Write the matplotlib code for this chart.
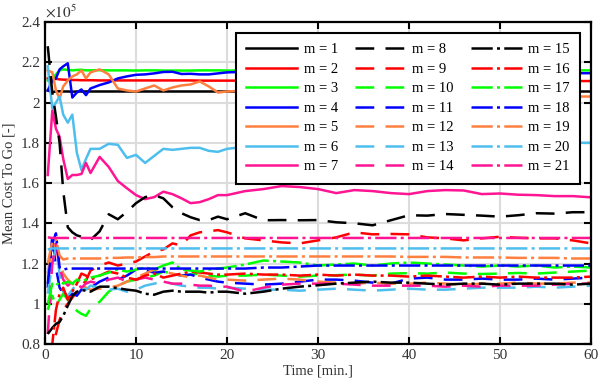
import matplotlib
matplotlib.use("Agg")
import matplotlib.pyplot as plt
from matplotlib.ticker import FuncFormatter

# Mean cost to go for m = 1..21, values in units of 1e5
T = [0.3, 0.8, 1.2, 1.6, 2.0, 2.5, 3.0, 3.5, 4, 4.5,
     5, 6, 7, 8, 9, 10, 11, 12, 13, 14, 15, 16, 17, 18, 19, 20,
     22, 24, 26, 28, 30, 32, 34, 36, 38, 40, 42, 44, 46, 48, 50, 52, 54, 56, 58, 60]

m1 = [2.060, 2.052, 2.055, 2.056, 2.055, 2.055, 2.054, 2.055, 2.055, 2.055,
      2.055, 2.055, 2.055, 2.055, 2.055, 2.055, 2.055, 2.055, 2.055, 2.055,
      2.055, 2.055, 2.055, 2.055, 2.055, 2.055, 2.055, 2.055, 2.055, 2.055,
      2.055, 2.055, 2.055, 2.055, 2.055, 2.055, 2.055, 2.055, 2.055, 2.055,
      2.055, 2.055, 2.055, 2.055, 2.055, 2.055]
m2 = [2.120, 2.122, 2.118, 2.115, 2.114, 2.113, 2.112, 2.112, 2.111, 2.111,
      2.111, 2.110, 2.110, 2.110, 2.110, 2.110, 2.110, 2.110, 2.110, 2.110,
      2.110, 2.110, 2.109, 2.109, 2.109, 2.109, 2.109, 2.109, 2.109, 2.108,
      2.108, 2.108, 2.108, 2.108, 2.108, 2.108, 2.108, 2.108, 2.108, 2.107,
      2.107, 2.107, 2.107, 2.107, 2.107, 2.107]
m3 = [2.110, 2.120, 2.140, 2.160, 2.165, 2.162, 2.160, 2.162, 2.163, 2.160,
      2.160, 2.161, 2.160, 2.160, 2.160, 2.159, 2.160, 2.160, 2.159, 2.159,
      2.159, 2.159, 2.160, 2.160, 2.160, 2.159, 2.160, 2.160, 2.160, 2.160,
      2.160, 2.160, 2.160, 2.160, 2.160, 2.160, 2.160, 2.160, 2.160, 2.160,
      2.160, 2.160, 2.160, 2.160, 2.160, 2.160]
m4 = [2.060, 2.110, 2.120, 2.165, 2.180, 2.195, 2.025, 2.050, 2.065, 2.037,
      2.070, 2.087, 2.100, 2.120, 2.130, 2.138, 2.140, 2.145, 2.152, 2.153,
      2.142, 2.143, 2.140, 2.140, 2.145, 2.150, 2.153, 2.150, 2.148, 2.150,
      2.150, 2.148, 2.150, 2.150, 2.148, 2.147, 2.148, 2.148, 2.147, 2.147,
      2.147, 2.146, 2.146, 2.146, 2.146, 2.146]
m5 = [2.160, 2.150, 2.060, 2.020, 2.080, 2.110, 2.130, 2.140, 2.160, 2.120,
      2.150, 2.165, 2.140, 2.070, 2.060, 2.055, 2.070, 2.085, 2.060, 2.075,
      2.085, 2.090, 2.105, 2.080, 2.050, 2.055, 2.060, 2.060, 2.070, 2.080,
      2.070, 2.060, 2.055, 2.050, 2.050, 2.045, 2.045, 2.040, 2.040, 2.040,
      2.035, 2.035, 2.035, 2.030, 2.030, 2.030]
m6 = [2.180, 1.970, 2.000, 2.030, 1.940, 1.900, 1.940, 1.750, 1.665, 1.720,
      1.770, 1.770, 1.795, 1.790, 1.725, 1.740, 1.700, 1.735, 1.770, 1.765,
      1.770, 1.775, 1.775, 1.760, 1.755, 1.770, 1.780, 1.785, 1.785, 1.790,
      1.790, 1.790, 1.795, 1.795, 1.795, 1.800, 1.800, 1.800, 1.800, 1.800,
      1.800, 1.800, 1.800, 1.800, 1.800, 1.800]
m7 = [1.640, 1.960, 1.870, 1.830, 1.720, 1.620, 1.640, 1.640, 1.645, 1.700,
      1.650, 1.730, 1.680, 1.610, 1.574, 1.540, 1.520, 1.530, 1.557, 1.545,
      1.524, 1.500, 1.505, 1.520, 1.540, 1.540, 1.560, 1.570, 1.585, 1.580,
      1.570, 1.550, 1.565, 1.560, 1.550, 1.545, 1.560, 1.565, 1.563, 1.545,
      1.548, 1.542, 1.540, 1.535, 1.535, 1.529]
m8 = [2.280, 2.050, 1.930, 1.800, 1.560, 1.380, 1.355, 1.340, 1.333, 1.320,
      1.317, 1.360, 1.445, 1.420, 1.457, 1.500, 1.530, 1.540, 1.524, 1.480,
      1.450, 1.430, 1.416, 1.416, 1.433, 1.420, 1.450, 1.415, 1.416, 1.415,
      1.416, 1.405, 1.400, 1.390, 1.415, 1.440, 1.438, 1.446, 1.442, 1.438,
      1.433, 1.440, 1.450, 1.448, 1.455, 1.455]
m9 = [0.700, 0.780, 0.850, 0.920, 0.970, 1.000, 1.030, 1.060, 1.090, 1.115,
      1.165, 1.190, 1.205, 1.190, 1.200, 1.210, 1.235, 1.260, 1.270, 1.300,
      1.290, 1.340, 1.355, 1.360, 1.366, 1.355, 1.325, 1.315, 1.305, 1.300,
      1.315, 1.330, 1.355, 1.345, 1.347, 1.345, 1.330, 1.325, 1.315, 1.325,
      1.333, 1.328, 1.325, 1.325, 1.315, 1.300]
m10 = [0.970, 1.040, 0.990, 1.020, 1.050, 1.020, 0.990, 0.965, 0.950, 0.940,
       0.975, 1.010, 1.060, 1.090, 1.110, 1.120, 1.130, 1.140, 1.160, 1.150,
       1.140, 1.145, 1.150, 1.140, 1.135, 1.140, 1.140, 1.145, 1.140, 1.135,
       1.140, 1.142, 1.145, 1.140, 1.150, 1.152, 1.150, 1.155, 1.150, 1.148,
       1.150, 1.153, 1.150, 1.155, 1.160, 1.165]
m11 = [1.080, 1.340, 1.180, 1.080, 1.050, 1.030, 1.050, 1.040, 1.070, 1.090,
       1.080, 1.110, 1.130, 1.120, 1.140, 1.170, 1.165, 1.155, 1.160, 1.150,
       1.140, 1.145, 1.130, 1.120, 1.110, 1.105, 1.100, 1.095, 1.100, 1.110,
       1.120, 1.120, 1.115, 1.105, 1.100, 1.125, 1.130, 1.120, 1.120, 1.125,
       1.120, 1.120, 1.125, 1.120, 1.125, 1.130]
m12 = [1.150, 1.300, 1.280, 1.220, 1.150, 1.120, 1.100, 1.080, 1.090, 1.080,
       1.070, 1.075, 1.080, 1.090, 1.110, 1.130, 1.150, 1.170, 1.160, 1.150,
       1.140, 1.130, 1.140, 1.130, 1.120, 1.120, 1.115, 1.120, 1.125, 1.120,
       1.110, 1.105, 1.100, 1.105, 1.100, 1.100, 1.105, 1.100, 1.095, 1.100,
       1.100, 1.105, 1.100, 1.100, 1.105, 1.105]
m13 = [1.050, 1.200, 1.280, 1.150, 1.060, 1.040, 1.070, 1.100, 1.080, 1.070,
       1.090, 1.080, 1.070, 1.075, 1.060, 1.070, 1.090, 1.100, 1.110, 1.100,
       1.090, 1.085, 1.080, 1.080, 1.075, 1.080, 1.075, 1.070, 1.070, 1.065,
       1.070, 1.075, 1.070, 1.065, 1.070, 1.075, 1.070, 1.070, 1.075, 1.080,
       1.080, 1.080, 1.085, 1.080, 1.085, 1.090]
m14 = [0.850, 1.200, 1.300, 1.180, 1.120, 1.090, 1.110, 1.100, 1.080, 1.100,
       1.110, 1.100, 1.120, 1.130, 1.110, 1.120, 1.130, 1.120, 1.110, 1.100,
       1.100, 1.095, 1.090, 1.090, 1.085, 1.085, 1.060, 1.080, 1.095, 1.100,
       1.100, 1.100, 1.095, 1.090, 1.090, 1.090, 1.090, 1.085, 1.090, 1.085,
       1.090, 1.090, 1.090, 1.095, 1.100, 1.100]
m15 = [0.850, 0.880, 0.900, 0.910, 0.940, 0.990, 1.040, 1.060, 1.068, 1.065,
       1.060, 1.085, 1.085, 1.077, 1.070, 1.065, 1.050, 1.045, 1.060, 1.065,
       1.060, 1.060, 1.060, 1.055, 1.060, 1.060, 1.050, 1.060, 1.075, 1.085,
       1.092, 1.100, 1.105, 1.110, 1.105, 1.105, 1.100, 1.095, 1.100, 1.100,
       1.095, 1.100, 1.100, 1.100, 1.095, 1.100]
m16 = [0.750, 0.800, 0.970, 1.050, 1.080, 1.020, 1.060, 1.100, 1.150, 1.140,
       1.120, 1.140, 1.160, 1.150, 1.130, 1.120, 1.140, 1.150, 1.130, 1.140,
       1.150, 1.160, 1.155, 1.150, 1.145, 1.145, 1.150, 1.145, 1.145, 1.140,
       1.145, 1.140, 1.145, 1.140, 1.140, 1.135, 1.140, 1.135, 1.130, 1.135,
       1.130, 1.135, 1.130, 1.130, 1.130, 1.135]
m17 = [1.000, 1.100, 1.090, 1.110, 1.100, 1.110, 1.100, 1.120, 1.110, 1.120,
       1.130, 1.140, 1.155, 1.170, 1.160, 1.170, 1.180, 1.170, 1.190, 1.205,
       1.170, 1.165, 1.160, 1.170, 1.175, 1.180, 1.195, 1.215, 1.210, 1.205,
       1.190, 1.195, 1.200, 1.190, 1.200, 1.205, 1.200, 1.195, 1.190, 1.185,
       1.190, 1.185, 1.190, 1.180, 1.185, 1.180]
m18 = [1.100, 1.300, 1.350, 1.180, 1.170, 1.175, 1.175, 1.175, 1.175, 1.175,
       1.175, 1.175, 1.175, 1.175, 1.175, 1.175, 1.175, 1.175, 1.175, 1.175,
       1.175, 1.175, 1.175, 1.175, 1.175, 1.175, 1.175, 1.180, 1.180, 1.185,
       1.190, 1.190, 1.190, 1.190, 1.190, 1.190, 1.190, 1.190, 1.190, 1.190,
       1.190, 1.190, 1.190, 1.190, 1.190, 1.190]
m19 = [1.200, 1.310, 1.320, 1.240, 1.220, 1.225, 1.225, 1.225, 1.225, 1.225,
       1.225, 1.225, 1.228, 1.228, 1.230, 1.230, 1.232, 1.232, 1.235, 1.235,
       1.235, 1.235, 1.235, 1.235, 1.235, 1.235, 1.235, 1.235, 1.235, 1.235,
       1.235, 1.235, 1.235, 1.235, 1.235, 1.233, 1.233, 1.233, 1.230, 1.230,
       1.230, 1.228, 1.228, 1.228, 1.225, 1.225]
m20 = [1.270, 1.275, 1.275, 1.275, 1.275, 1.275, 1.275, 1.275, 1.275, 1.275,
       1.275, 1.275, 1.275, 1.275, 1.275, 1.275, 1.275, 1.275, 1.275, 1.275,
       1.275, 1.275, 1.275, 1.275, 1.275, 1.275, 1.275, 1.275, 1.275, 1.275,
       1.275, 1.275, 1.275, 1.275, 1.275, 1.275, 1.275, 1.275, 1.275, 1.275,
       1.275, 1.275, 1.275, 1.275, 1.275, 1.275]
m21 = [1.330, 1.327, 1.327, 1.327, 1.327, 1.327, 1.327, 1.327, 1.327, 1.327,
       1.327, 1.327, 1.327, 1.327, 1.327, 1.327, 1.327, 1.327, 1.327, 1.327,
       1.327, 1.327, 1.327, 1.327, 1.327, 1.327, 1.327, 1.327, 1.327, 1.327,
       1.327, 1.327, 1.327, 1.327, 1.327, 1.327, 1.327, 1.327, 1.327, 1.327,
       1.327, 1.327, 1.327, 1.327, 1.327, 1.327]

series = [m1, m2, m3, m4, m5, m6, m7,
          m8, m9, m10, m11, m12, m13, m14,
          m15, m16, m17, m18, m19, m20, m21]

# MATLAB-ish colour order, repeated for each line style group
colors = ["#000000", "#ff0000", "#00ff00", "#0000ff",
          "#ff7f3f", "#4dbeee", "#ff1493"]
styles = ["-", (0, (7.5, 4.5)), (0, (8.5, 1.7, 1.2, 1.7))]

plt.rcParams["font.family"] = ["Liberation Serif", "DejaVu Serif"]
plt.rcParams["mathtext.fontset"] = "stix"
plt.rcParams["font.size"] = 11

fig = plt.figure(figsize=(5.98, 3.86), dpi=100)
ax = fig.add_axes([0.0753, 0.1088, 0.913, 0.834])

for i, vals in enumerate(series):
    ax.plot(T, vals, color=colors[i % 7], linestyle=styles[i // 7],
            linewidth=1.8, label="m = " + str(i + 1))

ax.set_xlim(0, 60)
ax.set_ylim(0.8, 2.4)
ax.set_xticks([0, 10, 20, 30, 40, 50, 60])
ax.set_yticks([0.8, 1.0, 1.2, 1.4, 1.6, 1.8, 2.0, 2.2, 2.4])
ax.yaxis.set_major_formatter(FuncFormatter(lambda v, p: "%g" % round(v, 2)))
ax.grid(True, color="#dcdcdc", linewidth=1.5)
ax.set_axisbelow(True)
ax.tick_params(direction="in", length=5, width=1.5, top=True, right=True,
               colors="black", labelcolor="#333333", labelsize=11)
for sp in ax.spines.values():
    sp.set_linewidth(1.6)

ax.set_xlabel("Time [min.]", fontsize=10.5, color="#333333", labelpad=2)
ax.set_ylabel("Mean Cost To Go [-]", fontsize=10.5, color="#333333", labelpad=4)
ax.text(0.0, 1.005, r"$\times 10^5$", transform=ax.transAxes,
        ha="left", va="bottom", fontsize=11, color="#333333")

leg = ax.legend(ncol=3, loc="upper right", bbox_to_anchor=(0.98, 0.966),
                borderaxespad=0, fancybox=False, framealpha=1,
                edgecolor="black", fontsize=10.5, handlelength=3.5,
                handletextpad=0.45, columnspacing=1.15, labelspacing=0.43,
                borderpad=0.7)
leg.get_frame().set_linewidth(1.5)

fig.savefig("out.png", dpi=100)
